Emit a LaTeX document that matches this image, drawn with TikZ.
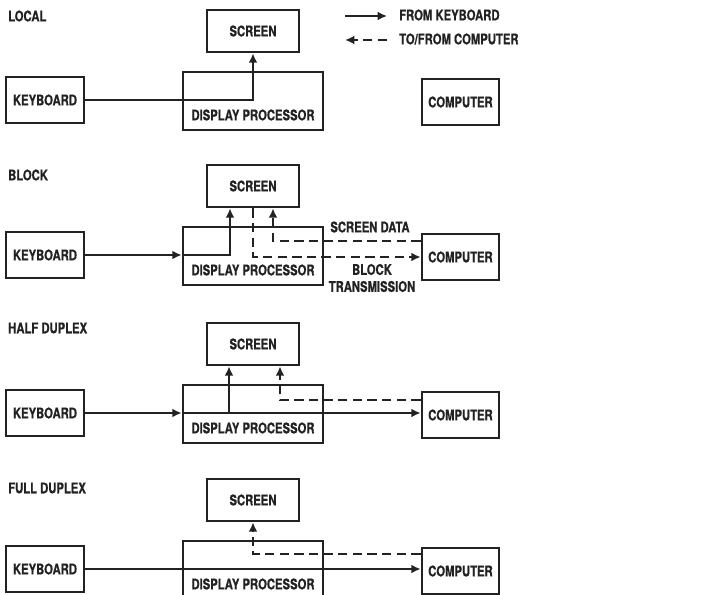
\documentclass[tikz,border=0pt]{standalone}
\usepackage{fontspec}
\setmainfont{TeX Gyre Heros}[FakeStretch=0.77, BoldFeatures={FakeBold=0.6}]
\usetikzlibrary{arrows.meta,calc}
\definecolor{ink}{HTML}{222222}
\tikzset{
  unit/.style={draw=ink, line width=2.2pt, inner sep=0pt, text=ink,
    font=\bfseries\fontsize{12.5}{15}\selectfont},
  kbd/.style={unit, minimum width=2.34cm, minimum height=1.38cm},
  scr/.style={unit, minimum width=2.76cm, minimum height=1.26cm},
  proc/.style={unit, minimum width=4.2cm, text height=1.45cm, text depth=0.29cm},
  host/.style={unit, minimum width=2.31cm, minimum height=1.38cm},
  caption/.style={text=ink, inner sep=0pt, align=center,
    font=\bfseries\fontsize{12.5}{14.5}\selectfont},
  mode/.style={caption, anchor=west},
  keyline/.style={draw=ink, line width=1.8pt},
  hostline/.style={keyline, dash pattern=on 8pt off 4.5pt},
  tip/.style={-{Latex[length=8pt,width=7.5pt]}},
}
\begin{document}
\begin{tikzpicture}[x=0.03cm, y=-0.03cm]
    \clip (0,0) rectangle (707,595);
    \fill[white] (0,0) rectangle (707,595);

    % Legend
    \coordinate (kfrom) at (345,16);
    \coordinate (kto) at (387,16);
    \draw[keyline, tip] (kfrom) -- (kto);
    \node[mode] (kleg) at (399,15) {FROM KEYBOARD};
    \coordinate (hfrom) at (387,40);
    \coordinate (hto) at (345,40);
    \draw[hostline, tip] (hfrom) -- (hto);
    \node[mode] (hleg) at (399,39) {TO/FROM COMPUTER};

    % LOCAL
    \begin{scope}[shift={(0,10)}]
        \node[mode] (mode1) at (8,6) {LOCAL};
        \node[scr] (scr1) at (253,21) {SCREEN};
        \node[kbd] (kb1) at (45,90) {KEYBOARD};
        \node[proc] (dp1) at (253,91) {DISPLAY PROCESSOR};
        \node[host] (host1) at (460.5,92) {COMPUTER};
        % Keyboard straight to screen
        \draw[keyline, tip] (kb1.east) -| (scr1.south);
    \end{scope}

    % BLOCK
    \begin{scope}[shift={(0,165)}]
        \node[mode] (mode2) at (8,10) {BLOCK};
        \node[scr] (scr2) at (253,21) {SCREEN};
        \node[kbd] (kb2) at (45,90) {KEYBOARD};
        \node[proc] (dp2) at (253,91) {DISPLAY PROCESSOR};
        \node[host] (host2) at (460.5,92) {COMPUTER};
        % Keyboard to processor, then to screen
        \draw[keyline, tip] (kb2.east) -- (kb2.east -| dp2.west);
        \draw[keyline, tip] (kb2.east -| dp2.west) -| ($(scr2.south)+(-23,0)$);
        % Block transmission
        \draw[hostline, tip] (scr2.south) |- (host2.west);
        % Screen data
        \draw[hostline, tip] ($(host2.west)+(0,-16)$) -| ($(scr2.south)+(20,0)$);
        \node[caption] (sdata) at (370,62) {SCREEN DATA};
        \node[caption] (btrans) at (372,113) {BLOCK\\TRANSMISSION};
    \end{scope}

    % HALF DUPLEX
    \begin{scope}[shift={(0,323)}]
        \node[mode] (mode3) at (8,5) {HALF DUPLEX};
        \node[scr] (scr3) at (253,21) {SCREEN};
        \node[kbd] (kb3) at (45,90) {KEYBOARD};
        \node[proc] (dp3) at (253,91) {DISPLAY PROCESSOR};
        \node[host] (host3) at (460.5,92) {COMPUTER};
        % Keyboard to processor and computer
        \draw[keyline, tip] (kb3.east) -- (kb3.east -| dp3.west);
        \draw[keyline, tip] (kb3.east -| dp3.west) -- (kb3.east -| host3.west);
        % Echo to screen
        \coordinate (echo3) at ($(scr3.south)+(-24,0)$);
        \draw[keyline, tip] (echo3 |- kb3.east) -- (echo3);
        % Computer to screen
        \draw[hostline, tip] ($(host3.west)+(0,-15)$) -| ($(scr3.south)+(27,0)$);
    \end{scope}

    % FULL DUPLEX
    \begin{scope}[shift={(0,479)}]
        \node[mode] (mode4) at (8,9) {FULL DUPLEX};
        \node[scr] (scr4) at (253,21) {SCREEN};
        \node[kbd] (kb4) at (45,90) {KEYBOARD};
        \node[proc] (dp4) at (253,91) {DISPLAY PROCESSOR};
        \node[host] (host4) at (460.5,92) {COMPUTER};
        % Keyboard straight to computer
        \draw[keyline, tip] (kb4.east) -- (kb4.east -| host4.west);
        % Computer to screen
        \draw[hostline, tip] ($(host4.west)+(0,-17)$) -| (scr4.south);
    \end{scope}
\end{tikzpicture}
\end{document}
